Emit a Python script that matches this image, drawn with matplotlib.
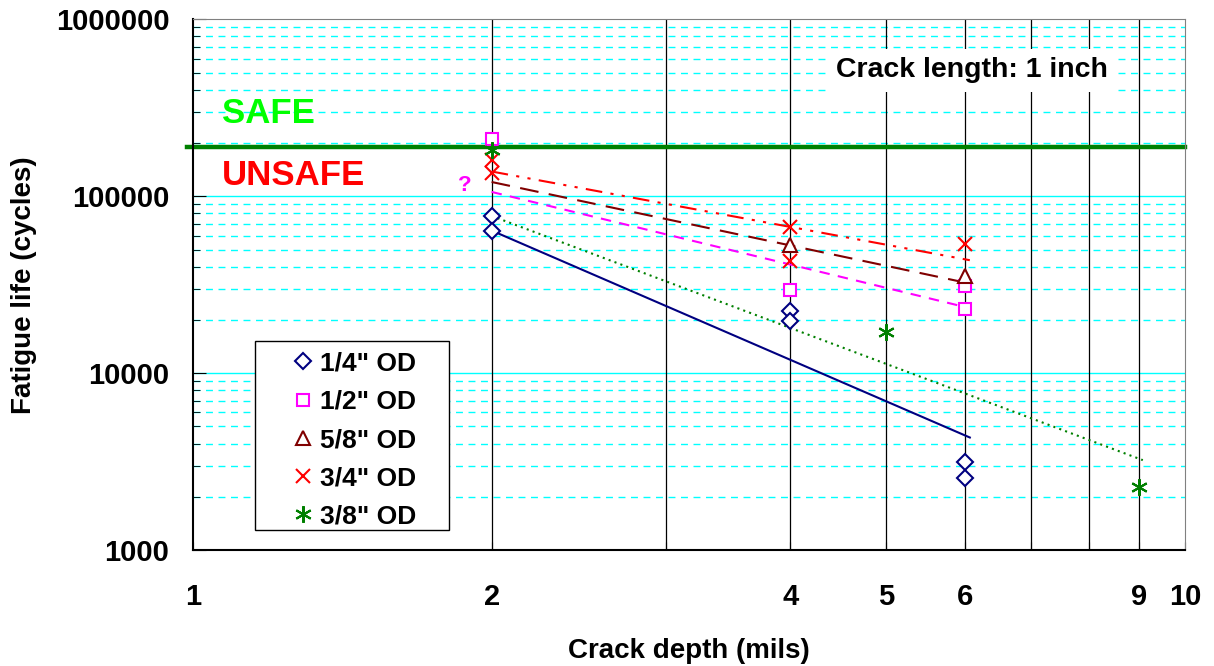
import matplotlib
matplotlib.use('Agg')
import matplotlib.pyplot as plt
from matplotlib.ticker import FixedLocator, NullFormatter, FixedFormatter
from matplotlib.patches import Rectangle

plt.rcParams['font.family'] = ['Liberation Sans', 'DejaVu Sans']
plt.rcParams['font.weight'] = 'bold'

# measured points (crack depth in mils, fatigue life in cycles)
depth_14 = [2, 2, 4, 4, 6, 6]
life_14 = [77000, 64000, 22400, 19700, 3150, 2550]
depth_12 = [2, 4, 6, 6]
life_12 = [210000, 29700, 31000, 23100]
depth_58 = [4, 6]
life_58 = [53000, 35300]
depth_34 = [2, 2, 4, 4, 6]
life_34 = [160000, 136000, 67000, 43000, 54000]
depth_38 = [2, 5, 9]
life_38 = [183000, 17100, 2280]

# power trendlines (end points)
trend_x = [2, 6.07]
trend_x_38 = [2, 9.07]
trend_14 = [64000, 4330]
trend_12 = [105800, 23300]
trend_58 = [120400, 32100]
trend_34 = [138000, 43500]
trend_38 = [77400, 3225]

safe_limit = 190000

x_ticks = [1, 2, 3, 4, 5, 6, 7, 8, 9, 10]
x_labels = ['1', '2', '', '4', '5', '6', '', '', '9', '10']

fig = plt.figure(figsize=(12.14, 6.66), dpi=100)
ax = fig.add_axes([0.159, 0.174, 0.817, 0.797])
ax.set_xscale('log')
ax.set_yscale('log')
ax.set_xlim(1, 10)
ax.set_ylim(1000, 1000000)

# grid
for d in [1e3, 1e4, 1e5]:
    for m in range(2, 10):
        ax.axhline(d * m, color='#00ffff', lw=1.0, ls=(0, (5, 4)), zorder=1)
for d in [1e4, 1e5]:
    ax.axhline(d, color='#00ffff', lw=1.0, zorder=1)
for xv in range(2, 10):
    ax.axvline(xv, color='black', lw=0.9, zorder=1.5)

ax.axhline(safe_limit, xmin=-0.006, xmax=1, color='#008000', lw=3.2, zorder=2, clip_on=False)

# trendlines
ax.plot(trend_x, trend_14, color='#000080', lw=1.5, zorder=3)
ax.plot(trend_x, trend_12, color='#ff00ff', lw=1.5, ls=(0, (5, 4)), zorder=3)
ax.plot(trend_x, trend_58, color='#800000', lw=1.5, ls=(0, (9, 5)), zorder=3)
ax.plot(trend_x, trend_34, color='#ff0000', lw=1.5, ls=(0, (8, 4, 1.5, 4, 1.5, 4)), zorder=3)
ax.plot(trend_x_38, trend_38, color='#008000', lw=1.5, ls=(0, (1, 2)), zorder=3)

# markers
ax.plot(depth_14, life_14, ls='none', marker='D', ms=8, mfc='white', mec='#000080', mew=1.5,
        label='1/4" OD', zorder=4)
ax.plot(depth_12, life_12, ls='none', marker='s', ms=8, mfc='white', mec='#ff00ff', mew=1.5,
        label='1/2" OD', zorder=4)
ax.plot(depth_58, life_58, ls='none', marker='^', ms=10, mfc='white', mec='#800000', mew=1.5,
        label='5/8" OD', zorder=4)
ax.plot(depth_34, life_34, ls='none', marker='x', ms=10, mec='#ff0000', mew=1.5,
        label='3/4" OD', zorder=4)
ax.plot(depth_38, life_38, ls='none', marker=(6, 2, 0), ms=12, mec='#008000', mew=1.5,
        label='3/8" OD', zorder=4)

# ticks
ax.xaxis.set_major_locator(FixedLocator(x_ticks))
ax.xaxis.set_major_formatter(FixedFormatter(x_labels))
ax.xaxis.set_minor_formatter(NullFormatter())
ax.set_yticks([1e3, 1e4, 1e5, 1e6])
ax.set_yticklabels(['1000', '10000', '100000', '1000000'])
ax.tick_params(axis='both', which='both', direction='in', labelsize=21)
ax.tick_params(axis='x', which='major', length=6, pad=24)
ax.tick_params(axis='y', which='major', length=9, pad=17)
ax.tick_params(axis='y', which='minor', length=5)

for side in ['top', 'right']:
    ax.spines[side].set_color('#808080')
for side in ['left', 'bottom']:
    ax.spines[side].set_color('black')
    ax.spines[side].set_linewidth(1.5)

ax.set_xlabel('Crack depth (mils)', fontsize=20, fontweight='bold', labelpad=19)
fig.text(24 / 1214, 0.572, 'Fatigue life (cycles)', rotation=90, fontsize=20,
         fontweight='bold', ha='center', va='center')

ax.text(0.029, 0.823, 'SAFE', transform=ax.transAxes, color='#00ff00', fontsize=25,
        fontweight='bold', va='center', ha='left')
ax.text(0.029, 0.706, 'UNSAFE', transform=ax.transAxes, color='#ff0000', fontsize=25,
        fontweight='bold', va='center', ha='left')
ax.text(0.274, 0.687, '?', transform=ax.transAxes, color='#ff00ff', fontsize=16,
        fontweight='bold', va='center', ha='center')
ax.text(0.648, 0.904, 'Crack length: 1 inch', transform=ax.transAxes, fontsize=20.5,
        fontweight='bold', va='center', ha='left', zorder=5,
        bbox=dict(facecolor='white', edgecolor='none', pad=6))

# legend box drawn by hand, entries placed inside
ax.add_patch(Rectangle((0.0625, 0.0377), 0.1955, 0.3563, transform=ax.transAxes,
                       facecolor='white', edgecolor='black', lw=1.0, zorder=5))
leg = ax.legend(loc='upper left', bbox_to_anchor=(0.1028, 0.374), fontsize=19, frameon=False,
                handlelength=0.6, handletextpad=0.35, borderpad=0, labelspacing=0.54,
                borderaxespad=0)
leg.set_zorder(6)
for t in leg.get_texts():
    t.set_fontweight('bold')

fig.savefig('out.png', dpi=100)
